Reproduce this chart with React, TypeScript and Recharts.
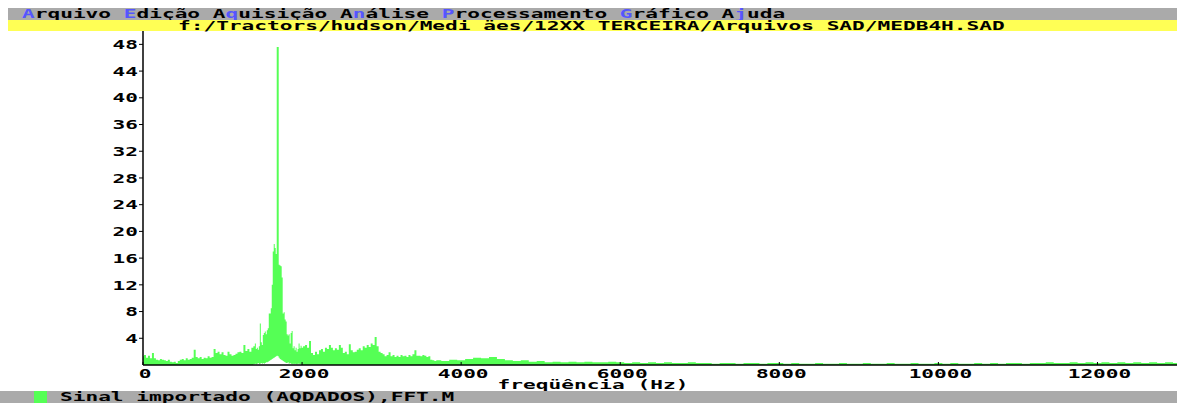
import React from 'react';
import { AreaChart, Area, XAxis, YAxis } from 'recharts';

const FONT = '"DejaVu Sans Mono", "Liberation Mono", monospace';
const SX = 1.625; // the old DOS screen font is very wide, stretch the mono font to match
const GREEN = '#55ff55';
const GRAY = '#aaaaaa';
const YELLOW = '#ffff55';
const HOTKEY = '#5555ff';

const MENU_ITEMS = ['Arquivo', 'Edição', 'Aquisição', 'Análise', 'Processamento', 'Gráfico', 'Ajuda'];
const MENU_HOTKEYS = [0, 0, 1, 1, 0, 0, 1];
const FILE_PATH = 'f:/Tractors/hudson/Medi äes/12XX TERCEIRA/Arquivos SAD/MEDB4H.SAD';
const SERIES_NAME = 'Sinal importado (AQDADOS),FFT.M';
const X_LABEL = 'freqüência (Hz)';

const X_TICKS = [0, 2000, 4000, 6000, 8000, 10000, 12000];
const Y_TICKS = [4, 8, 12, 16, 20, 24, 28, 32, 36, 40, 44, 48];

// spectrum, in bands with different resolution (Hz)
const LOW_START = 0;
const LOW_STEP = 25;
const lowHi = [
    1.3, 1.5, 1.1, 1.4, 1.0, 1.8, 1.0, 0.8, 0.7, 0.9,
    0.8, 0.7, 0.6, 0.8, 0.5, 0.4, 0.5, 0.3, 0.6, 0.8,
    0.9, 0.7, 1.0, 0.8, 0.9, 1.1, 2.3, 1.2, 1.0, 1.2,
    0.9, 1.1, 1.0, 1.3, 1.1, 1.2, 2.4, 1.8, 2.0, 1.6,
    1.9, 1.5, 1.4, 2.0, 1.6, 1.4, 1.5, 1.7, 1.9, 2.0,
    1.8, 3.0, 2.1, 2.4, 2.0, 2.6,
];

const PEAK_START = 1400;
const PEAK_STEP = 12.5;
const peakHi = [
    2.8, 3.2, 2.4, 2.6, 2.3, 2.8, 6.2, 3.4, 3.0, 4.5,
    4.8, 5.0, 4.6, 5.2, 5.5, 7.7, 7.7, 8.5, 12.0, 17.0,
    18.1, 17.5, 16.6, 47.6, 47.6, 15.0, 14.9, 14.8, 13.1, 7.7,
    7.9, 6.8, 6.5, 4.6, 4.4, 4.6, 3.2, 4.8, 5.1, 2.5,
    2.8, 2.2, 2.6, 2.0, 2.4, 3.2, 2.5, 2.9,
];
const peakLo = [
    0.1, 0.2, 0.1, 0.2, 0.3, 0.1, 0.2, 0.3, 0.2, 0.3,
    0.2, 0.3, 0.4, 0.4, 0.5, 0.6, 0.7, 0.8, 0.9, 1.0,
    1.1, 1.2, 1.3, 1.4, 1.3, 1.1, 0.9, 0.8, 0.7, 0.6,
    0.5, 0.4, 0.3, 0.3, 0.4, 0.2, 0.3, 0.2, 0.1, 0.2,
    0.1, 0.2, 0.1, 0.1, 0.2, 0.2, 0.1, 0.1,
];

const MID_START = 2000;
const MID_STEP = 25;
const midHi = [
    2.6, 2.8, 3.0, 2.6, 3.6, 1.8, 1.5, 2.0, 1.6, 2.2,
    2.4, 2.0, 2.6, 2.4, 3.0, 2.6, 2.2, 2.5, 2.3, 3.0,
    2.6, 1.8, 2.0, 1.6, 3.1, 2.2, 1.9, 2.0, 2.3, 2.5,
    2.2, 2.8, 2.6, 3.0, 2.7, 3.2, 3.0, 4.2, 2.8, 2.0,
    1.8, 1.6, 1.3, 1.5, 1.9, 1.3, 1.5, 1.2, 1.4, 1.2,
    1.5, 1.3, 1.4, 1.2, 1.5, 1.3, 1.6, 2.2, 1.4, 1.4,
    1.3, 1.5, 1.4, 1.2, 1.3, 0.8, 0.7, 0.6,
];

const TAIL_START = 3700;
const TAIL_STEP = 100;
const tailHi = [
    0.7, 0.6, 0.8, 0.7, 0.9, 1.1, 1.0, 1.2, 0.9, 0.7,
    0.6, 0.7, 0.5, 0.6, 0.4, 0.5, 0.4, 0.5, 0.4, 0.5,
    0.4, 0.4, 0.5, 0.4, 0.3, 0.4, 0.3, 0.4, 0.3, 0.4,
    0.3, 0.3, 0.4, 0.3, 0.3, 0.2, 0.3, 0.3, 0.2, 0.3,
    0.3, 0.2, 0.3, 0.3, 0.2, 0.3, 0.2, 0.2, 0.3, 0.2,
    0.2, 0.3, 0.2, 0.2, 0.3, 0.2, 0.2, 0.3, 0.2, 0.2,
    0.3, 0.2, 0.2, 0.3, 0.2, 0.3, 0.2, 0.2, 0.3, 0.2,
    0.3, 0.2, 0.3, 0.3, 0.2, 0.3, 0.3, 0.4, 0.3, 0.3,
    0.4, 0.3, 0.4, 0.3, 0.4, 0.3, 0.4, 0.3, 0.4, 0.3,
    0.4, 0.3, 0.4, 0.3,
];

const band = (start: number, step: number, hi: number[], lo?: number[]) =>
    hi.map((v, i) => ({ f: start + i * step, amp: [lo ? lo[i] : 0, v] }));

const spectrum = [
    ...band(LOW_START, LOW_STEP, lowHi),
    ...band(PEAK_START, PEAK_STEP, peakHi, peakLo),
    ...band(MID_START, MID_STEP, midHi),
    ...band(TAIL_START, TAIL_STEP, tailHi),
];

const svgText = { fontFamily: FONT, fontWeight: 700, fontSize: 13 } as const;

const XTick = (props: any) => {
    const { x, y, payload } = props;
    return (
        <g>
            <line x1={x} x2={x} y1={y - 3} y2={y} stroke="#000" />
            <text transform={`translate(${x + 2},${y + 12.5}) scale(${SX},1)`} textAnchor="middle" fill="#000" style={svgText}>
                {payload.value}
            </text>
        </g>
    );
};

const YTick = (props: any) => {
    const { x, y, payload } = props;
    return (
        <g>
            <line x1={x - 4} x2={x} y1={y} y2={y} stroke="#000" />
            <text transform={`translate(${x - 5},${y}) scale(${SX},1)`} dy="0.36em" textAnchor="end" fill="#000" style={svgText}>
                {payload.value}
            </text>
        </g>
    );
};

const bar = (top: number, height: number, bg: string, left = 8): React.CSSProperties => ({
    position: 'absolute', left, right: 0, top, height, background: bg,
});

const wideText: React.CSSProperties = {
    whiteSpace: 'pre', color: '#000', fontFamily: FONT, fontWeight: 700, fontSize: 13,
    transform: `scaleX(${SX})`,
};

// stretched text line, left edge fixed
const Wide: React.FC<{ left: number; lh?: number; children: React.ReactNode }> = ({ left, lh = 12, children }) => (
    <div style={{ ...wideText, position: 'absolute', left, top: 0, lineHeight: `${lh}px`, transformOrigin: 'left center' }}>
        {children}
    </div>
);

export default function App() {
    return (
        <div style={{ position: 'fixed', left: 0, top: 0, width: 1177, height: 403, overflow: 'hidden', background: '#fff' }}>
            <div style={bar(8, 12, GRAY)}>
                <Wide left={14}>
                    {MENU_ITEMS.map((m, i) => (
                        <span key={m}>
                            {m.slice(0, MENU_HOTKEYS[i])}
                            <span style={{ color: HOTKEY }}>{m[MENU_HOTKEYS[i]]}</span>
                            {m.slice(MENU_HOTKEYS[i] + 1)}
                            {i < MENU_ITEMS.length - 1 ? ' ' : ''}
                        </span>
                    ))}
                </Wide>
            </div>
            <div style={bar(20, 11, YELLOW)}>
                <Wide left={170} lh={11}>{FILE_PATH}</Wide>
            </div>

            <div style={{ position: 'absolute', left: 0, top: 31 }}>
                <AreaChart width={1177} height={359} data={spectrum} margin={{ top: 0, right: 0, bottom: 0, left: 0 }}>
                    <XAxis dataKey="f" type="number" domain={[0, 13000]} ticks={X_TICKS} interval={0} height={25}
                        tickSize={0} tickMargin={0} tickLine={false} tick={(p: any) => <XTick {...p} />}
                        stroke="#000" strokeWidth={1.5} allowDataOverflow />
                    <YAxis type="number" domain={[0, 50]} ticks={Y_TICKS} interval={0} width={143}
                        tickSize={0} tickMargin={0} tickLine={false} tick={(p: any) => <YTick {...p} />}
                        stroke="#000" strokeWidth={1.5} allowDataOverflow />
                    <Area dataKey="amp" type="step" stroke="none" fill={GREEN} fillOpacity={1}
                        dot={false} activeDot={false} isAnimationActive={false} />
                </AreaChart>
            </div>

            <div style={{ ...wideText, position: 'absolute', left: 0, width: 1186, top: 379, lineHeight: '11px', textAlign: 'center', transformOrigin: 'center center' }}>
                {X_LABEL}
            </div>

            <div style={bar(391, 12, GRAY, 0)}>
                <div style={{ position: 'absolute', left: 34, top: 0, width: 13, height: 12, background: GREEN }} />
                <Wide left={60}>{SERIES_NAME}</Wide>
            </div>
        </div>
    );
}
